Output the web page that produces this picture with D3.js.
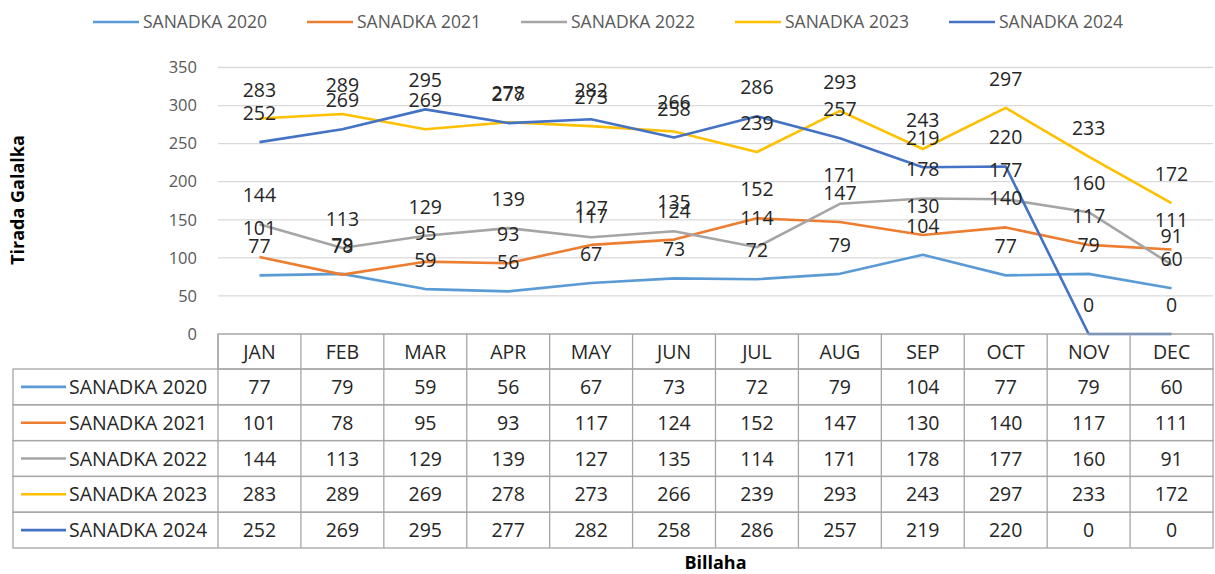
<!DOCTYPE html>
<html>
<head>
<meta charset="utf-8">
<script src="https://cdn.jsdelivr.net/npm/d3@7"></script>
<style>
  body { margin: 0; background: #fff; }
  svg { display: block; font-family: 'Open Sans', sans-serif; }
</style>
</head>
<body>
<div id="chart"></div>
<script>
// Data
let months = ['JAN', 'FEB', 'MAR', 'APR', 'MAY', 'JUN', 'JUL', 'AUG', 'SEP', 'OCT', 'NOV', 'DEC']
let seriesNames = ['SANADKA 2020', 'SANADKA 2021', 'SANADKA 2022', 'SANADKA 2023', 'SANADKA 2024']
let seriesColors = ['#5B9BD5', '#ED7D31', '#A5A5A5', '#FFC000', '#4472C4']
let values2020 = [77, 79, 59, 56, 67, 73, 72, 79, 104, 77, 79, 60]
let values2021 = [101, 78, 95, 93, 117, 124, 152, 147, 130, 140, 117, 111]
let values2022 = [144, 113, 129, 139, 127, 135, 114, 171, 178, 177, 160, 91]
let values2023 = [283, 289, 269, 278, 273, 266, 239, 293, 243, 297, 233, 172]
let values2024 = [252, 269, 295, 277, 282, 258, 286, 257, 219, 220, 0, 0]
let yTicks = [0, 50, 100, 150, 200, 250, 300, 350]
let yTitle = 'Tirada Galalka'
let xTitle = 'Billaha'

let allValues = [values2020, values2021, values2022, values2023, values2024]
let series = seriesNames.map(function(name, i){
  return {name: name, color: seriesColors[i], values: allValues[i]}
})

// Plot constants
let width = 1215
let height = 574
let plotL = 218, plotR = 1213, plotT = 67.5, plotB = 334
let tableL = 13, tableB = 548, headerB = 369

let svg = d3.select('#chart')
  .append('svg')
  .attr('width', width)
  .attr('height', height)

let x = d3.scaleBand()
  .domain(months)
  .range([plotL, plotR])

let y = d3.scaleLinear()
  .domain([0, 350])
  .range([plotB, plotT])

let rowScale = d3.scaleBand()
  .domain(seriesNames)
  .range([headerB, tableB])

// Gridlines
svg.append('g')
  .selectAll('line')
  .data(yTicks)
  .enter().append('line')
  .attr('x1', plotL)
  .attr('x2', plotR)
  .attr('y1', function(d){ return y(d) })
  .attr('y2', function(d){ return y(d) })
  .style('stroke', '#d9d9d9')
  .style('stroke-width', 1.3)

// Y axis labels
svg.append('g')
  .selectAll('text')
  .data(yTicks)
  .enter().append('text')
  .attr('x', 197)
  .attr('y', function(d){ return y(d) })
  .attr('dy', '0.35em')
  .attr('text-anchor', 'end')
  .style('font-size', '16.5px')
  .style('fill', '#595959')
  .text(function(d){ return d })

// Lines
let line = d3.line()
  .x(function(d, i){ return x(months[i]) + x.bandwidth() / 2 })
  .y(function(d){ return y(d) })

svg.append('g')
  .selectAll('path')
  .data(series)
  .enter().append('path')
  .attr('d', function(d){ return line(d.values) })
  .style('fill', 'none')
  .style('stroke', function(d){ return d.color })
  .style('stroke-width', 2.6)
  .style('stroke-linejoin', 'round')

// Data labels (above each point, drawn over all lines)
let labelGroups = svg.append('g')
  .selectAll('g')
  .data(series)
  .enter().append('g')

labelGroups.selectAll('text')
  .data(function(d){ return d.values })
  .enter().append('text')
  .attr('x', function(d, i){ return x(months[i]) + x.bandwidth() / 2 })
  .attr('y', function(d){ return y(d) - 22 })
  .attr('text-anchor', 'middle')
  .style('font-size', '19.5px')
  .style('fill', '#262626')
  .text(function(d){ return d })

// Data table
let table = svg.append('g')
let borderColor = '#a6a6a6'

// header row
table.append('rect')
  .attr('x', plotL)
  .attr('y', plotB)
  .attr('width', plotR - plotL)
  .attr('height', headerB - plotB)
  .style('fill', 'none')
  .style('stroke', borderColor)
  .style('stroke-width', 1.3)

table.selectAll('.month')
  .data(months)
  .enter().append('text')
  .attr('class', 'month')
  .attr('x', function(d){ return x(d) + x.bandwidth() / 2 })
  .attr('y', (plotB + headerB) / 2)
  .attr('dy', '0.36em')
  .attr('text-anchor', 'middle')
  .style('font-size', '19.5px')
  .style('fill', '#262626')
  .text(function(d){ return d })

// body rows
table.selectAll('.row')
  .data(seriesNames)
  .enter().append('rect')
  .attr('class', 'row')
  .attr('x', tableL)
  .attr('y', function(d){ return rowScale(d) })
  .attr('width', plotR - tableL)
  .attr('height', rowScale.bandwidth())
  .style('fill', 'none')
  .style('stroke', borderColor)
  .style('stroke-width', 1.3)

// column lines
table.selectAll('.col')
  .data(months)
  .enter().append('line')
  .attr('class', 'col')
  .attr('x1', function(d){ return x(d) })
  .attr('x2', function(d){ return x(d) })
  .attr('y1', plotB)
  .attr('y2', tableB)
  .style('stroke', borderColor)
  .style('stroke-width', 1.3)

// row headers with legend keys
let rowHeads = table.selectAll('.rowhead')
  .data(series)
  .enter().append('g')
  .attr('class', 'rowhead')
  .attr('transform', function(d){ return `translate(0,${rowScale(d.name) + rowScale.bandwidth() / 2})` })

rowHeads.append('line')
  .attr('x1', 21)
  .attr('x2', 66)
  .style('stroke', function(d){ return d.color })
  .style('stroke-width', 2.6)

rowHeads.append('text')
  .attr('x', 69)
  .attr('dy', '0.36em')
  .style('font-size', '19.5px')
  .style('fill', '#262626')
  .text(function(d){ return d.name })

// cell values
rowHeads.selectAll('.cell')
  .data(function(d){ return d.values })
  .enter().append('text')
  .attr('class', 'cell')
  .attr('x', function(d, i){ return x(months[i]) + x.bandwidth() / 2 })
  .attr('dy', '0.36em')
  .attr('text-anchor', 'middle')
  .style('font-size', '19.5px')
  .style('fill', '#262626')
  .text(function(d){ return d })

// Top legend
let legend = svg.append('g')
let legendX = 93
series.forEach(function(s){
  legend.append('line')
    .attr('x1', legendX)
    .attr('x2', legendX + 46)
    .attr('y1', 22)
    .attr('y2', 22)
    .style('stroke', s.color)
    .style('stroke-width', 2.6)
  legend.append('text')
    .attr('x', legendX + 50)
    .attr('y', 22)
    .attr('dy', '0.36em')
    .style('font-size', '17.5px')
    .style('fill', '#595959')
    .text(s.name)
  legendX = legendX + 214
})

// Axis titles
svg.append('text')
  .attr('transform', `translate(24,200) rotate(-90)`)
  .attr('text-anchor', 'middle')
  .style('font-size', '18px')
  .style('font-weight', 'bold')
  .style('fill', '#000')
  .text(yTitle)

svg.append('text')
  .attr('x', (plotL + plotR) / 2)
  .attr('y', 569)
  .attr('text-anchor', 'middle')
  .style('font-size', '18px')
  .style('font-weight', 'bold')
  .style('fill', '#000')
  .text(xTitle)
</script>
</body>
</html>
